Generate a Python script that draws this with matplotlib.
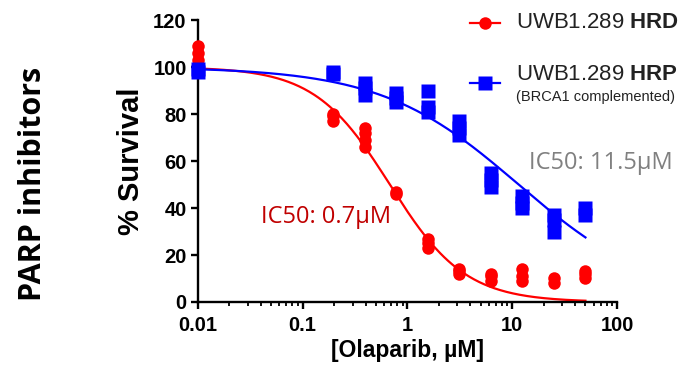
import matplotlib
matplotlib.use("Agg")
import matplotlib.pyplot as plt
from matplotlib.lines import Line2D
from matplotlib.ticker import LogLocator, FixedLocator, NullFormatter
import numpy as np

plt.rcParams['font.family'] = ['Liberation Sans', 'DejaVu Sans']
plt.rcParams['mathtext.fontset'] = 'custom'
plt.rcParams['mathtext.rm'] = 'Liberation Sans'
plt.rcParams['mathtext.bf'] = 'Liberation Sans:bold'

# concentrations (uM), replicate survival values
conc = [0.01, 0.195, 0.39, 0.78, 1.56, 3.125, 6.25, 12.5, 25, 50]
hrd = [[103, 106, 109], [77, 79, 80], [66, 69, 72, 74], [46, 47], [23, 25, 27],
       [12, 13, 14], [9, 11, 12], [9, 11, 14], [8, 10], [10, 12, 13]]
hrp = [[98, 99], [97, 98], [88, 91, 93], [85, 87, 89], [81, 83, 90],
       [71, 74, 77], [49, 52, 55], [40, 42, 45], [30, 35, 37], [37, 40]]

# dose-response fit parameters (top, bottom, IC50, hill)
fit_hrd = (100, 0, 0.68, 1.21)
fit_hrp = (100, 0, 11.5, 0.66)

x_ticks = [0.01, 0.1, 1, 10, 100]
x_tick_labels = ["0.01", "0.1", "1", "10", "100"]
y_ticks = [0, 20, 40, 60, 80, 100, 120]


def logistic(x, top, bottom, ic50, hill):
    return bottom + (top - bottom) / (1 + (x / ic50) ** hill)


fig = plt.figure(figsize=(6.89, 3.71), dpi=100)
ax = fig.add_axes([0.287, 0.186, 0.6085, 0.760])

xs = np.logspace(np.log10(conc[0]), np.log10(conc[-1]), 300)
ax.plot(xs, logistic(xs, *fit_hrd), color='#ff0000', lw=1.6, zorder=2)
ax.plot(xs, logistic(xs, *fit_hrp), color='#0000ff', lw=1.6, zorder=2)

for c, vals in zip(conc, hrd):
    ax.plot([c] * len(vals), vals, 'o', color='#ff0000', ms=9, mec='none',
            clip_on=False, zorder=3)
for c, vals in zip(conc, hrp):
    ax.plot([c] * len(vals), vals, 's', color='#0000ff', ms=9.5, mec='none',
            clip_on=False, zorder=3)

ax.set_xscale('log')
ax.set_xlim(0.01, 100)
ax.set_ylim(0, 120)
ax.xaxis.set_major_locator(FixedLocator(x_ticks))
ax.set_xticklabels(x_tick_labels)
ax.xaxis.set_minor_locator(LogLocator(base=10, subs=np.arange(2, 10)))
ax.xaxis.set_minor_formatter(NullFormatter())
ax.set_yticks(y_ticks)

for s in ['top', 'right']:
    ax.spines[s].set_visible(False)
for s in ['left', 'bottom']:
    ax.spines[s].set_linewidth(1.7)
ax.tick_params(which='major', length=5, width=1.7, labelsize=14.5)
ax.tick_params(axis='x', which='major', pad=5)
ax.tick_params(axis='y', which='major', pad=3)
ax.tick_params(which='minor', length=3, width=1.3)
for lbl in ax.get_xticklabels() + ax.get_yticklabels():
    lbl.set_fontweight('bold')

ax.set_xlabel('[Olaparib, µM]', fontsize=16.5, fontweight='bold', labelpad=3)
ax.set_ylabel('% Survival', fontsize=21, fontweight='bold', labelpad=6)

ax.text(0.04, 36, 'IC50: 0.7µM', color='#c00000', fontsize=17,
        family=['Open Sans', 'DejaVu Sans'], va='center')
ax.text(14.5, 59, 'IC50: 11.5µM', color='#808080', fontsize=17,
        family=['Open Sans', 'DejaVu Sans'], va='center')

fig.text(33 / 689, 1 - 184 / 371, 'PARP inhibitors', rotation=90, fontsize=22,
         fontweight='bold', ha='center', va='center',
         family=['Open Sans', 'DejaVu Sans'])

# legend drawn by hand
W, H = 689, 371
fig.add_artist(Line2D([470 / W, 500 / W], [1 - 23 / H, 1 - 23 / H],
                      color='#ff0000', lw=1.6, transform=fig.transFigure))
fig.add_artist(Line2D([485 / W], [1 - 23 / H], color='#ff0000', marker='o',
                      ms=9, mec='none', transform=fig.transFigure))
fig.add_artist(Line2D([470 / W, 500 / W], [1 - 83 / H, 1 - 83 / H],
                      color='#0000ff', lw=1.6, transform=fig.transFigure))
fig.add_artist(Line2D([485 / W], [1 - 83 / H], color='#0000ff', marker='s',
                      ms=9.5, mec='none', transform=fig.transFigure))
fig.text(516 / W, 1 - 23 / H, 'UWB1.289 $\\mathbf{HRD}$', fontsize=16,
         va='center', color='#222222')
fig.text(516 / W, 1 - 74 / H, 'UWB1.289 $\\mathbf{HRP}$', fontsize=16,
         va='center', color='#222222')
fig.text(516 / W, 1 - 97 / H, '(BRCA1 complemented)', fontsize=10.5,
         va='center', color='#222222')

fig.savefig('out.png', dpi=100)
